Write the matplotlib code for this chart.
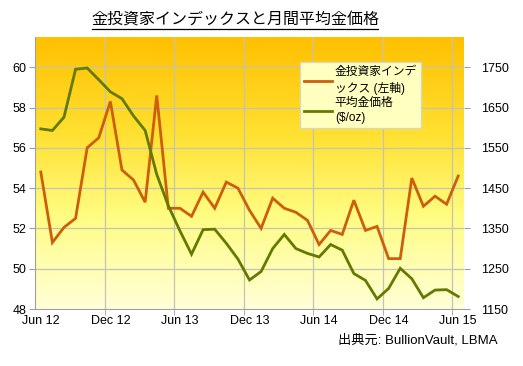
import numpy as np
import matplotlib
matplotlib.use("Agg")
import matplotlib.pyplot as plt
from matplotlib.colors import LinearSegmentedColormap
from matplotlib.lines import Line2D

plt.rcParams['font.family'] = ['Liberation Sans', 'Noto Sans CJK JP', 'DejaVu Sans']

# ---- data ----
months = ["Jun 12", "Jul 12", "Aug 12", "Sep 12", "Oct 12", "Nov 12", "Dec 12",
          "Jan 13", "Feb 13", "Mar 13", "Apr 13", "May 13", "Jun 13", "Jul 13",
          "Aug 13", "Sep 13", "Oct 13", "Nov 13", "Dec 13", "Jan 14", "Feb 14",
          "Mar 14", "Apr 14", "May 14", "Jun 14", "Jul 14", "Aug 14", "Sep 14",
          "Oct 14", "Nov 14", "Dec 14", "Jan 15", "Feb 15", "Mar 15", "Apr 15",
          "May 15", "Jun 15"]
investor_index = [54.8, 51.3, 52.05, 52.5, 56.0, 56.5, 58.3, 54.9, 54.4, 53.3,
                  58.6, 53.0, 53.0, 52.6, 53.8, 53.0, 54.3, 54.0, 52.9, 52.0,
                  53.5, 53.0, 52.8, 52.4, 51.2, 51.9, 51.7, 53.4, 51.9, 52.1,
                  50.5, 50.5, 54.5, 53.1, 53.6, 53.2, 54.6]
gold_price = [1597, 1593, 1626, 1745, 1748, 1719, 1689, 1672, 1629, 1593,
              1484, 1406, 1344, 1286, 1347, 1348, 1313, 1274, 1222, 1243,
              1300, 1335, 1300, 1288, 1279, 1310, 1296, 1238, 1221, 1175,
              1201, 1251, 1225, 1178, 1197, 1198, 1181]
tick_labels = ["Jun 12", "Dec 12", "Jun 13", "Dec 13", "Jun 14", "Dec 14", "Jun 15"]
left_ticks = [48, 50, 52, 54, 56, 58, 60]
right_ticks = [1150, 1250, 1350, 1450, 1550, 1650, 1750]

title = "金投資家インデックスと月間平均金価格"
label_index = "金投資家インデ\nックス (左軸)"
label_gold = "平均金価格\n($/oz)"
source = "出典元: BullionVault, LBMA"

W, H = 523, 366
fig = plt.figure(figsize=(W / 100, H / 100), dpi=100)
fig.patch.set_facecolor("white")

L, R, T, B = 35, 464, 37, 309
ax = fig.add_axes([L / W, 1 - B / H, (R - L) / W, (B - T) / H])

x = np.arange(len(months))
ax.set_xlim(-0.5, len(months) - 0.5)
ax.set_ylim(48, 61.5)

# gradient background
cmap = LinearSegmentedColormap.from_list(
    "bg", [(0.0, "#FFFFD8"), (0.35, "#FFFC80"), (0.65, "#FFE030"), (1.0, "#FFC000")])
grad = np.linspace(0, 1, 256).reshape(-1, 1)
ax.imshow(grad, aspect="auto", cmap=cmap, origin="lower",
          extent=[-0.5, len(months) - 0.5, 48, 61.5], zorder=0)

grid_color = "#C4C4B4"
for yv in left_ticks[1:]:
    ax.axhline(yv, color=grid_color, lw=0.9, zorder=1)
boundaries = [5.5, 11.5, 17.5, 23.5, 29.5, 35.5]
for xv in boundaries:
    ax.axvline(xv, color=grid_color, lw=0.9, zorder=1)

ax2 = ax.twinx()
ax2.set_ylim(1150, 1825)

orange = "#CC5E0C"
green = "#637A00"
ax.plot(x, investor_index, color=orange, lw=2.0, zorder=3, solid_joinstyle="miter")
ax2.plot(x, gold_price, color=green, lw=2.0, zorder=3, solid_joinstyle="miter")

# ticks
tick_pos = [months.index(t) for t in tick_labels]
ax.set_xticks(tick_pos)
ax.set_xticklabels(tick_labels, fontsize=9)
ax.set_xticks(boundaries, minor=True)
ax.tick_params(axis="x", which="major", length=0, pad=4)
ax.tick_params(axis="x", which="minor", length=4, color="#A0A0A0")
ax.set_yticks(left_ticks)
ax.set_yticklabels([str(v) for v in left_ticks], fontsize=9)
ax.tick_params(axis="y", length=4, color="#A0A0A0", pad=2)
ax2.set_yticks(right_ticks)
ax2.set_yticklabels([str(v) for v in right_ticks], fontsize=9)
ax2.tick_params(axis="y", length=4, color="#A0A0A0", pad=8)

for a in (ax, ax2):
    for s in a.spines.values():
        s.set_visible(False)
ax.spines["left"].set_visible(True)
ax.spines["left"].set_color("#A0A0A0")
ax.spines["bottom"].set_visible(True)
ax.spines["bottom"].set_color("#A0A0A0")

# legend
handles = [Line2D([], [], color=orange, lw=2.0), Line2D([], [], color=green, lw=2.0)]
leg = ax2.legend(handles, [label_index, label_gold], loc="upper left",
                 bbox_to_anchor=((300 - L) / (R - L), (B - 62) / (B - T)),
                 fontsize=8.5, frameon=True, fancybox=False, handlelength=2.4,
                 handletextpad=0.2, borderpad=0.35, labelspacing=0.2,
                 borderaxespad=0)
leg.get_frame().set_facecolor("#FFFFC0")
leg.get_frame().set_edgecolor("#D8D8C0")
leg.get_frame().set_alpha(1.0)
for t in leg.get_texts():
    t.set_linespacing(1.35)

fig.text(235 / W, 1 - 20 / H, title, ha="center", va="center",
         fontsize=11.5, family=["Noto Sans CJK JP", "DejaVu Sans"])
# underline
fig.add_artist(Line2D([92 / W, 378 / W], [1 - 29 / H, 1 - 29 / H], color="black", lw=0.9))

fig.text(498 / W, 1 - 340 / H, source, ha="right", va="center", fontsize=9.5,
         family=["Liberation Sans", "Noto Sans CJK JP", "DejaVu Sans"])

fig.savefig("out.png", dpi=100)
